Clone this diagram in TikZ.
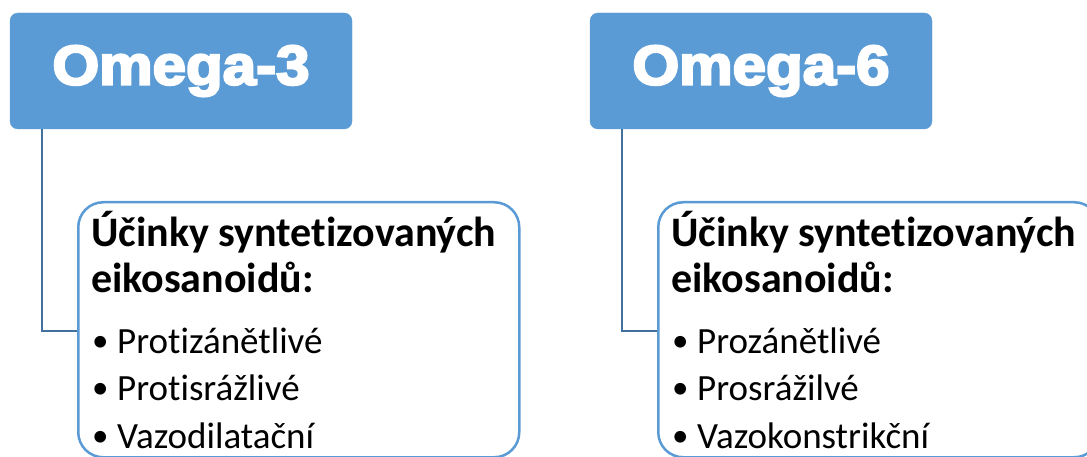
\documentclass[tikz,border=0pt]{standalone}
\usepackage{fontspec}
\setmainfont{Carlito}[Ligatures=NoCommon]
\newfontfamily\omegafont[BoldFeatures={FakeBold=4}]{Liberation Sans}
\definecolor{boxblue}{HTML}{5B9BD5}
\definecolor{connblue}{HTML}{41719C}
\tikzset{
  headbox/.style={fill=boxblue, draw=boxblue, rounded corners=8pt, minimum width=342pt, minimum height=116pt, inner sep=0pt},
  childbox/.style={draw=boxblue, line width=2.5pt, fill=white, rounded corners=25pt, minimum width=441pt, minimum height=255pt, inner sep=0pt, anchor=north west},
  conn/.style={draw=connblue, line width=2.6pt},
  headtxt/.style={anchor=base west, inner sep=0pt, font=\fontsize{42}{48}\selectfont\bfseries},
  itemtxt/.style={anchor=base west, inner sep=0pt, font=\fontsize{37}{44}\selectfont},
  bul/.style={anchor=base west, inner sep=0pt, font=\fontsize{33}{40}\selectfont},
}
\newcommand{\omegalabel}[1]{\resizebox{257pt}{39pt}{\omegafont\bfseries #1}}
\begin{document}
\begin{tikzpicture}[x=1pt,y=-1pt]
\useasboundingbox (0,0) rectangle (1087,457);
\begin{scope}
\clip (0,0) rectangle (1087,457);
% left
\node[headbox] (o3) at (181,71) {\color{white}\omegalabel{Omega-3}};
\node[childbox] (c3) at (77,201) {};
\draw[conn] ([xshift=32pt]o3.south west) |- ([yshift=-130pt]c3.north west);
\node[headtxt] (h3a) at (91,247) {Účinky syntetizovaných};
\node[headtxt] (h3b) at (91,292) {eikosanoidů:};
\node[bul] (b3a) at (92,351) {•};
\node[itemtxt] (i3a) at (117,353) {Protizánětlivé};
\node[bul] (b3b) at (92,398) {•};
\node[itemtxt] (i3b) at (117,400) {Protisrážlivé};
\node[bul] (b3c) at (92,446) {•};
\node[itemtxt] (i3c) at (117,448) {Vazodilatační};
% right
\node[headbox] (o6) at (761,71) {\color{white}\omegalabel{Omega-6}};
\node[childbox] (c6) at (657,201) {};
\draw[conn] ([xshift=32pt]o6.south west) |- ([yshift=-130pt]c6.north west);
\node[headtxt] (h6a) at (671,247) {Účinky syntetizovaných};
\node[headtxt] (h6b) at (671,292) {eikosanoidů:};
\node[bul] (b6a) at (672,351) {•};
\node[itemtxt] (i6a) at (697,353) {Prozánětlivé};
\node[bul] (b6b) at (672,398) {•};
\node[itemtxt] (i6b) at (697,400) {Prosrážilvé};
\node[bul] (b6c) at (672,446) {•};
\node[itemtxt] (i6c) at (697,448) {Vazokonstrikční};
\end{scope}
\end{tikzpicture}
\end{document}
